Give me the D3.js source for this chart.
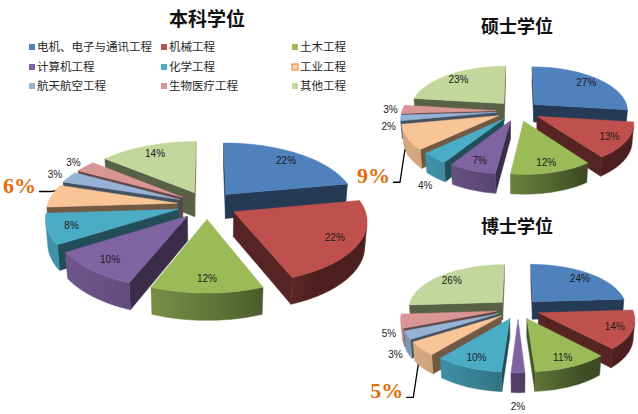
<!DOCTYPE html>
<html><head><meta charset="utf-8">
<script src="https://cdn.jsdelivr.net/npm/d3@7"></script>
<style>body{margin:0;background:#fff}svg{display:block}</style>
</head><body>
<svg id="chart" width="638" height="414"></svg>
<script>
// ---------------- data ----------------
const categories = ["电机、电子与通讯工程","机械工程","土木工程","计算机工程","化学工程","工业工程","航天航空工程","生物医疗工程","其他工程"];
const bachelorValues = [22,22,12,10,8,6,3,3,14];
const masterValues   = [27,13,12,7,4,9,2,3,23];
const doctorValues   = [24,14,11,2,10,5,3,5,26];
const chartTitles = ["本科学位","硕士学位","博士学位"];
const highlightCategory = "工业工程";

// ---------------- styles / layout ----------------
const palette = ["#4F81BD","#C0504D","#9BBB59","#8064A2","#4BACC6","#FAC596","#95B3D7","#D99694","#C3D69B"];
const color = d3.scaleOrdinal(categories, palette);
const geo = {R:130, D:916, sin:0.465, cos:0.885, d:30, h:28};
const layouts = [
  {values: bachelorValues, title: chartTitles[0], cx:207, cy:205, k:1,     tx:207, ty:26,  ts:19, callout:{frac:0.75, level:0, ex:-4, ey:1,  seg:12}},
  {values: masterValues,   title: chartTitles[1], cx:518, cy:111, k:0.725, tx:517, ty:33,  ts:18, callout:{frac:0.75, level:1, ex:-5, ey:33, seg:7}},
  {values: doctorValues,   title: chartTitles[2], cx:518, cy:309, k:0.725, tx:517, ty:233, ts:18, callout:{frac:0.75, level:1, ex:-5, ey:33, seg:7}}
];

const svg = d3.select("#chart");
const defs = svg.append("defs");
const pieGen = d3.pie().sort(null).value(d => d);
const line = d3.line();
const shade = (c, b) => { const r = d3.rgb(c); return d3.rgb(r.r*b, r.g*b, r.b*b).formatHex(); };
const cam = [0, geo.D*geo.sin, geo.D*geo.cos];
const facing = (n, p) => n[0]*(cam[0]-p[0]) + n[1]*(cam[1]-p[1]) + n[2]*(cam[2]-p[2]) > 0;
const lightDir = [-0.85, 0.53];
const deg = Math.PI/180;

function projector(L) {
  return (X, Y, Z) => {
    const depth = 1 - (Y*geo.sin + Z*geo.cos)/geo.D;
    return [L.cx + L.k*X/depth, L.cy + L.k*(Z*geo.sin - Y*geo.cos)/depth];
  };
}

// ---------------- legend ----------------
const legendCols = [29, 161, 292], legendRows = [47, 67, 86];
const legend = svg.append("g").attr("font-family", "'Noto Sans CJK SC', sans-serif").attr("font-size", 11.5).attr("fill", "#262626");
categories.forEach((c, i) => {
  const x = legendCols[i % 3], y = legendRows[Math.floor(i / 3)];
  const isHi = c === highlightCategory;
  legend.append("rect").attr("x", x).attr("y", y - 3).attr("width", 6).attr("height", 6)
    .attr("fill", isHi ? "#FCD5B4" : color(c))
    .attr("stroke", isHi ? "#F79646" : "none").attr("stroke-width", isHi ? 1.3 : 0);
  legend.append("text").attr("x", x + 8).attr("y", y).attr("dy", "0.36em").text(c);
});

// ---------------- pies ----------------
layouts.forEach((L, pi) => {
  const P = projector(L);
  const g = svg.append("g");
  svg.append("text").attr("x", L.tx).attr("y", L.ty).attr("text-anchor", "middle")
    .attr("font-family", "'Noto Sans CJK SC', sans-serif").attr("font-weight", 700)
    .attr("font-size", L.ts).attr("fill", "#111").text(L.title);

  const slices = pieGen(L.values).map((a, i) => {
    const m = (a.startAngle + a.endAngle) / 2;
    const ox = geo.d*Math.sin(m), oz = -geo.d*Math.cos(m);
    return {...a, i, cat: categories[i], m, ox, oz, key: oz - 0.5*geo.R*Math.cos(m)};
  }).sort((u, v) => u.key - v.key);

  slices.forEach(s => {
    const a0 = s.startAngle, a1 = s.endAngle, R = geo.R, h = geo.h;
    const base = color(s.cat);
    const rimPt = (ang, r = R) => [s.ox + r*Math.sin(ang), s.oz - r*Math.cos(ang)];
    const c = [s.ox, s.oz];
    // radial walls
    [[a0, -1], [a1, 1]].forEach(([ang, sg]) => {
      const n = [sg*Math.cos(ang), 0, sg*Math.sin(ang)];
      const mid = rimPt(ang, R/2);
      if (!facing(n, [mid[0], -h/2, mid[1]])) return;
      const r = rimPt(ang);
      const pts = [P(c[0], 0, c[1]), P(r[0], 0, r[1]), P(r[0], -h, r[1]), P(c[0], -h, c[1])];
      g.append("path").attr("d", line(pts) + "Z").attr("fill", shade(base, 0.45))
        .attr("stroke", shade(base, 0.45)).attr("stroke-width", 0.5);
    });
    // outer wall
    const nSteps = Math.max(2, Math.ceil((a1 - a0) / (1.5*deg)));
    const vis = [];
    for (let j = 0; j <= nSteps; j++) {
      const ang = a0 + (a1 - a0) * j / nSteps;
      const r = rimPt(ang);
      if (facing([Math.sin(ang), 0, -Math.cos(ang)], [r[0], -h/2, r[1]])) vis.push(ang);
    }
    if (vis.length >= 2) {
      const tops = vis.map(ang => { const r = rimPt(ang); return P(r[0], 0, r[1]); });
      const bots = vis.map(ang => { const r = rimPt(ang); return P(r[0], -h, r[1]); }).reverse();
      const id = `ow${pi}_${s.i}`;
      const x1 = tops[0][0], x2 = tops[tops.length - 1][0];
      const flat = Math.abs(x2 - x1) < 0.5;
      const grad = defs.append("linearGradient").attr("id", id).attr("gradientUnits", "userSpaceOnUse")
        .attr("x1", x1).attr("y1", 0).attr("x2", flat ? x1 + 1 : x2).attr("y2", 0);
      vis.forEach((ang, j) => {
        const lit = Math.max(0, Math.sin(ang)*lightDir[0] - Math.cos(ang)*lightDir[1]);
        const off = flat ? j/(vis.length-1) : (tops[j][0] - x1) / (x2 - x1);
        grad.append("stop").attr("offset", Math.max(0, Math.min(1, off))).attr("stop-color", shade(base, 0.4 + 0.45*lit));
      });
      g.append("path").attr("d", line(tops.concat(bots)) + "Z").attr("fill", `url(#${id})`)
        .attr("stroke", `url(#${id})`).attr("stroke-width", 0.5);
    }
    // top face
    const topPts = [P(c[0], 0, c[1])];
    for (let j = 0; j <= nSteps; j++) {
      const r = rimPt(a0 + (a1 - a0) * j / nSteps);
      topPts.push(P(r[0], 0, r[1]));
    }
    g.append("path").attr("d", line(topPts) + "Z").attr("fill", base).attr("stroke", base).attr("stroke-width", 0.5);
  });

  // labels
  const lg = svg.append("g");
  slices.forEach(s => {
    const v = s.value;
    if (s.cat === highlightCategory) {
      const co = L.callout;
      const ang = s.startAngle + (s.endAngle - s.startAngle) * co.frac;
      const X = s.ox + geo.R*Math.sin(ang), Z = s.oz - geo.R*Math.cos(ang);
      const t = P(X, -geo.h*co.level, Z);
      const elbow = [t[0] + co.ex, t[1] + co.ey];
      lg.append("path").attr("d", line([[elbow[0] - co.seg, elbow[1]], elbow, t]))
        .attr("fill", "none").attr("stroke", "#000").attr("stroke-width", 1.3);
      lg.append("text").attr("x", elbow[0] - co.seg - 3).attr("y", elbow[1] + 1).attr("text-anchor", "end")
        .attr("font-family", "'Liberation Serif', 'DejaVu Serif', serif").attr("font-weight", 700)
        .attr("font-size", 22).attr("fill", "#E46C0A")
        .text(v + "%");
      return;
    }
    let pt;
    if (v > 5) {
      const r = geo.d + 0.82*geo.R;
      pt = P(r*Math.sin(s.m), 0, -r*Math.cos(s.m));
    } else {
      const r = geo.d + 1.13*geo.R;
      const lev = Math.sqrt(Math.max(0, -Math.cos(s.m)));
      pt = P(r*Math.sin(s.m), -geo.h*lev, -r*Math.cos(s.m));
      pt[1] += 5*lev;
    }
    lg.append("text").attr("x", pt[0]).attr("y", pt[1]).attr("dy", "0.35em").attr("text-anchor", "middle")
      .attr("font-family", "'Liberation Sans', Arial, sans-serif").attr("font-size", 10).attr("fill", "#1a1a1a")
      .text(v + "%");
  });
});
</script>
</body></html>
